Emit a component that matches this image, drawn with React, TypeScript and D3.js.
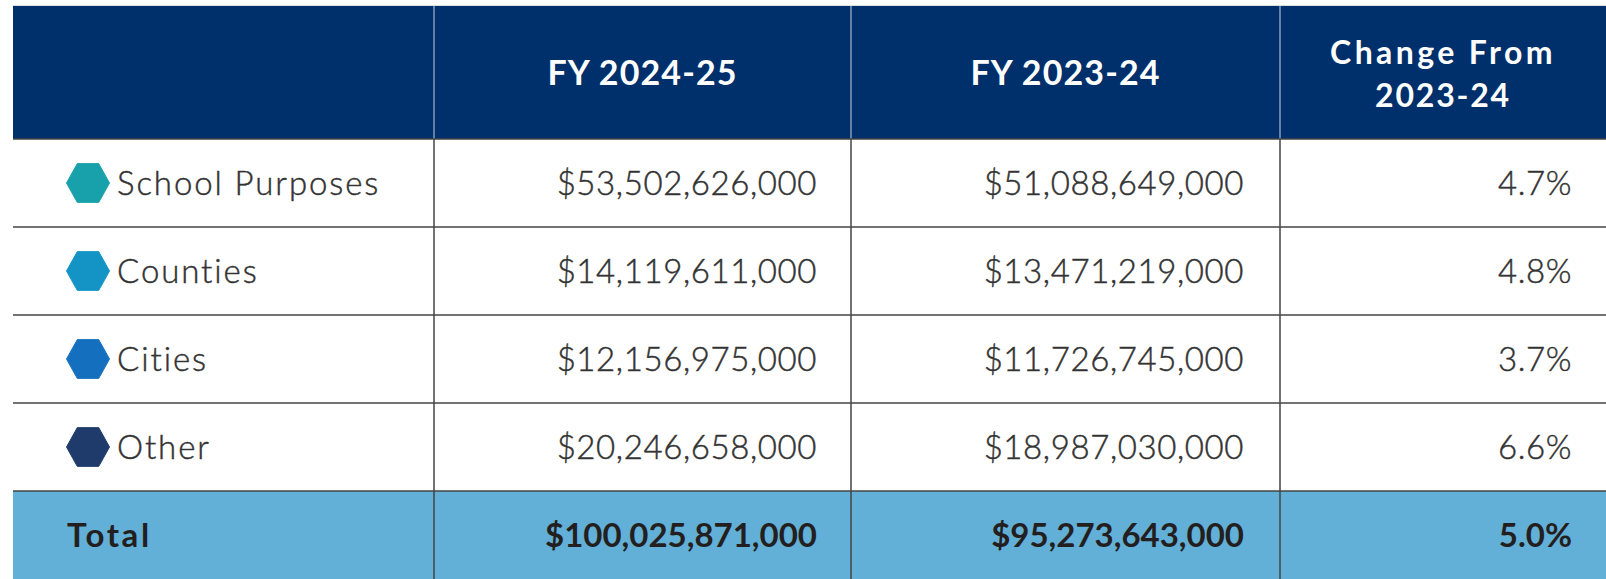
import React from "react";
import * as d3 from "d3";

const categories = ["School Purposes", "Counties", "Cities", "Other"];
const fy2425 = [53502626000, 14119611000, 12156975000, 20246658000];
const fy2324 = [51088649000, 13471219000, 11726745000, 18987030000];
const changePct = [4.7, 4.8, 3.7, 6.6];
const totalLabel = "Total";
const total2425 = 100025871000;
const total2324 = 95273643000;
const totalChange = 5.0;
const headerLabels = [[""], ["FY 2024-25"], ["FY 2023-24"], ["Change From", "2023-24"]];

const hexColors = ["#18a1aa", "#1494c5", "#1470bf", "#1f3b6b"];

const W = 1606;
const H = 579;
const colEdges = [13, 434, 851, 1280, 1606];
const headerTop = 6;
const headerBottom = 139;
const FONT = "Lato, 'Open Sans', sans-serif";

export default function App() {
  const fmt = d3.format("$,");
  const rowKeys = [...categories.map((_, i) => String(i)), "total"];
  const y = d3.scaleBand<string>().domain(rowKeys).range([headerBottom, H]).paddingInner(0);
  const bw = y.bandwidth();

  const hexPath = (cx: number, cy: number, r: number) => {
    const pts: [number, number][] = d3.range(6).map((k) => {
      const a = (Math.PI / 3) * k;
      return [cx + r * Math.cos(a), cy + r * Math.sin(a) * 1.04];
    });
    return d3.line()(pts.concat([pts[0]])) + "Z";
  };

  const bodyRows = categories.map((c, i) => ({
    key: String(i),
    label: c,
    a: fmt(fy2425[i]),
    b: fmt(fy2324[i]),
    ch: changePct[i].toFixed(1) + "%",
    color: hexColors[i],
  }));

  const pad = 34;
  const bodyColor = "#333333";

  return (
    <svg width={W} height={H} style={{ position: "absolute", left: 0, top: 0, background: "#fff" }}>
      {/* header */}
      <rect x={colEdges[0]} y={headerTop} width={colEdges[4] - colEdges[0]} height={headerBottom - headerTop} fill="#00306b" />
      <line x1={colEdges[0]} x2={colEdges[4]} y1={headerTop - 0.5} y2={headerTop - 0.5} stroke="#d8dde6" strokeWidth={1} />
      {colEdges.slice(1, 4).map((x, i) => (
        <line key={"hv" + i} x1={x} x2={x} y1={headerTop} y2={headerBottom} stroke="#c9d1de" strokeWidth={1} />
      ))}
      {headerLabels.map((lines, i) => {
        const cx = (colEdges[i] + colEdges[i + 1]) / 2;
        const mid = (headerTop + headerBottom) / 2;
        if (lines.length === 1) {
          return (
            <text key={"h" + i} x={cx} y={mid + 12.5} textAnchor="middle" fill="#fff" fontFamily={FONT} fontWeight={700} fontSize={34} letterSpacing={1.1}>
              {lines[0]}
            </text>
          );
        }
        return (
          <text key={"h" + i} textAnchor="middle" fill="#fff" fontFamily={FONT} fontWeight={700} fontSize={32}>
            {lines.map((l, j) => (
              <tspan key={j} x={cx} y={64 + j * 43} letterSpacing={j === 0 ? 3.4 : 1.8}>
                {l}
              </tspan>
            ))}
          </text>
        );
      })}

      {/* total row background */}
      <rect x={colEdges[0]} y={y("total")!} width={colEdges[4] - colEdges[0]} height={bw} fill="#62afd7" />

      {/* body rows */}
      {bodyRows.map((r) => {
        const cy = y(r.key)! + bw / 2;
        return (
          <g key={r.key}>
            <path d={hexPath(88, cy, 21.5)} fill={r.color} stroke={r.color} strokeWidth={1} strokeLinejoin="round" />
            <g fontFamily={FONT} fontWeight={300} fontSize={33} fill={bodyColor} stroke={bodyColor} strokeWidth={0.45}>
              <text x={117} y={cy + 11.5} letterSpacing={1.9}>
                {r.label}
              </text>
              <text x={colEdges[2] - pad} y={cy + 11.5} textAnchor="end" letterSpacing={0.6}>
                {r.a}
              </text>
              <text x={colEdges[3] - 36} y={cy + 11.5} textAnchor="end" letterSpacing={0.6}>
                {r.b}
              </text>
              <text x={colEdges[4] - pad} y={cy + 11.5} textAnchor="end" letterSpacing={0.6}>
                {r.ch}
              </text>
            </g>
          </g>
        );
      })}

      {/* total row text */}
      {(() => {
        const cy = y("total")! + bw / 2;
        return (
          <g fill="#231f20" fontFamily={FONT} fontWeight={700} fontSize={33}>
            <text x={67} y={cy + 11.5} letterSpacing={2.6}>{totalLabel}</text>
            <text x={colEdges[2] - pad} y={cy + 11.5} textAnchor="end">{fmt(total2425)}</text>
            <text x={colEdges[3] - 36} y={cy + 11.5} textAnchor="end">{fmt(total2324)}</text>
            <text x={colEdges[4] - pad} y={cy + 11.5} textAnchor="end">{totalChange.toFixed(1) + "%"}</text>
          </g>
        );
      })()}

      {/* grid lines */}
      {rowKeys.map((k) => (
        <line key={"hl" + k} x1={colEdges[0]} x2={colEdges[4]} y1={y(k)!} y2={y(k)!} stroke="#444" strokeWidth={1.5} />
      ))}
      {colEdges.slice(1, 4).map((x, i) => (
        <line key={"v" + i} x1={x} x2={x} y1={headerBottom} y2={H} stroke="#444" strokeWidth={1.5} />
      ))}
    </svg>
  );
}
